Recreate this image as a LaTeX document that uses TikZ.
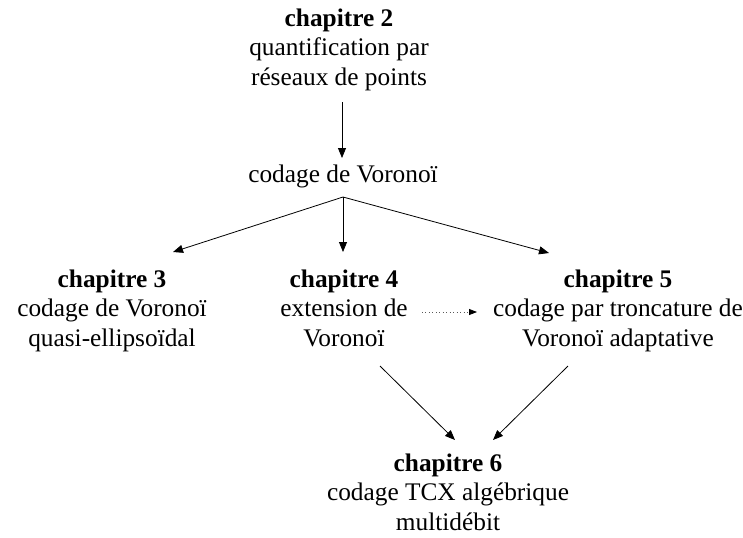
\documentclass[tikz,border=0pt]{standalone}
\usepackage{fontspec}
\setmainfont{Liberation Serif}
\usetikzlibrary{arrows.meta,calc}
\begin{document}
\begin{tikzpicture}[x=0.75pt,y=-0.75pt,
  txt/.style={align=center,inner sep=0pt,font=\fontsize{19}{22}\selectfont},
  arr/.style={line width=0.6pt,-{Triangle[length=7.5pt,width=6pt]}},
  dotarr/.style={line width=0.6pt,dotted,gray!70!black,
    -{Triangle[length=6pt,width=4.5pt,color=black]}}]
\useasboundingbox (0,0) rectangle (743,537);

\node[txt] (c2) at (339,50) {\strut\textbf{chapitre 2}\\quantification par\\réseaux de points\strut};
\node[txt] (vor) at (343,177) {\strut codage de Voronoï};
\node[txt] (c3) at (112,311) {\strut\textbf{chapitre 3}\\codage de Voronoï\\quasi-ellipsoïdal\strut};
\node[txt] (c4) at (344,311) {\strut\textbf{chapitre 4}\\extension de\\Voronoï\strut};
\node[txt] (c5) at (618,311) {\strut\textbf{chapitre 5}\\codage par troncature de\\Voronoï adaptative\strut};
\node[txt] (c6) at (448,495) {\strut\textbf{chapitre 6}\\codage TCX algébrique\\multidébit\strut};

% main flow
\draw[arr] ($(c2.center)+(3,52)$) -- ($(vor.center)+(-1,-19)$);
\draw[arr] ($(vor.center)+(0,20)$) -- ($(c3.center)+(61,-59)$);
\draw[arr] ($(vor.center)+(0,20)$) -- ($(c4.center)+(-1,-59)$);
\draw[arr] ($(vor.center)+(0,20)$) -- ($(c5.center)+(-69,-58)$);

% dotted link between chapters 4 and 5
\draw[dotarr] ($(c4.center)+(78,1)$) -- ($(c5.center)+(-141,1)$);

% towards chapter 6
\draw[arr] ($(c4.center)+(36,55)$) -- ($(c6.center)+(7,-55)$);
\draw[arr] ($(c5.center)+(-50,55)$) -- ($(c6.center)+(45,-55)$);
\end{tikzpicture}
\end{document}
